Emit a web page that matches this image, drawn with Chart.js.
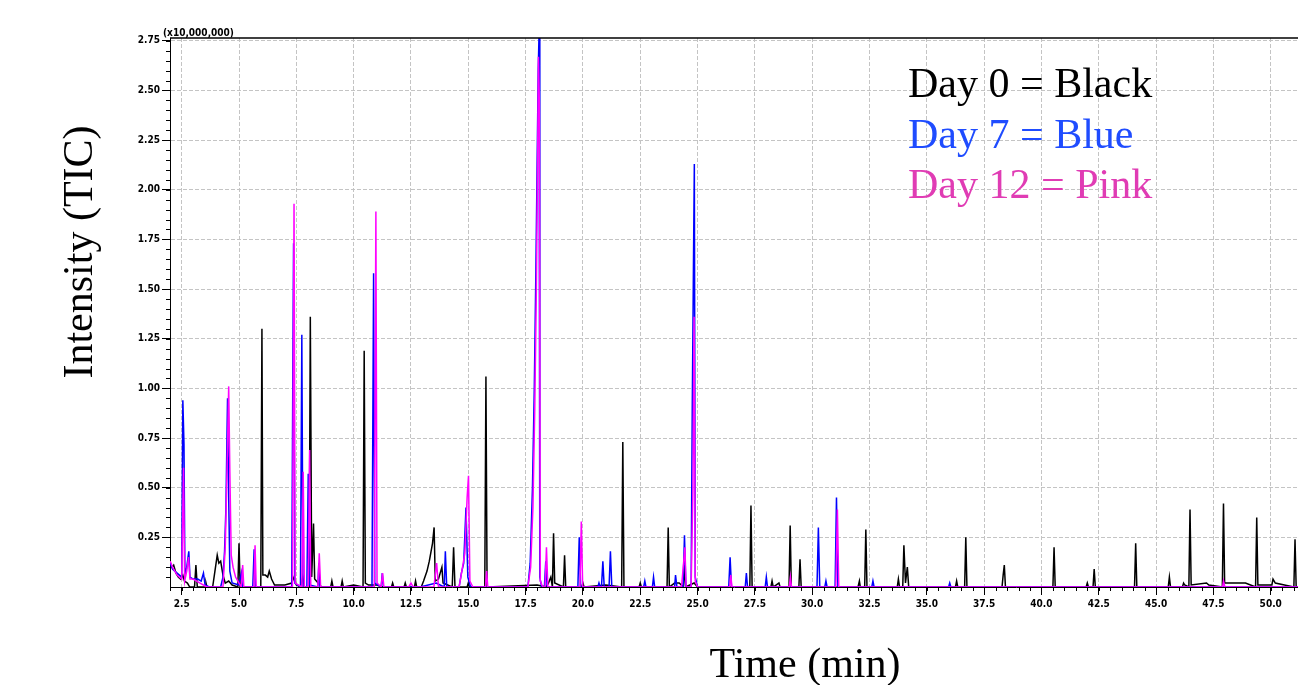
<!DOCTYPE html>
<html>
<head>
<meta charset="utf-8">
<title>TIC chromatogram</title>
<script src="https://cdn.jsdelivr.net/npm/chart.js@4.4.1/dist/chart.umd.min.js"></script>
<style>
  html, body { margin: 0; padding: 0; background: #fff; }
  #chart { display: block; }
</style>
</head>
<body>
<canvas id="chart" width="1298" height="685"></canvas>
<script>
// [retention time (min), intensity (x10,000,000)]
const day0 = [
  [2.0,0.12],[2.08,0.10],[2.15,0.11],[2.25,0.07],[2.35,0.05],[2.45,0.04],[2.55,0.06],[2.62,0.03],[2.75,0.02],[2.85,0],
  [3.06,0],[3.12,0.11],[3.18,0],[3.52,0],[3.56,0.02],[3.6,0],[3.85,0],[3.95,0.08],[4.05,0.16],[4.12,0.12],[4.2,0.13],
  [4.3,0.06],[4.4,0.02],[4.55,0.03],[4.7,0.01],[4.95,0],[5.0,0.22],[5.05,0],[5.95,0],[6.0,1.30],[6.04,0.06],[6.15,0.06],
  [6.25,0.05],[6.32,0.08],[6.42,0.04],[6.55,0.01],[7.0,0.01],[7.3,0.02],[7.4,0.05],[7.5,0.01],[7.7,0],[7.78,0.05],[7.85,0],
  [8.06,0],[8.11,1.36],[8.17,0.05],[8.25,0.32],[8.3,0.04],[8.45,0.02],[8.6,0],[9.0,0],[9.05,0.03],[9.1,0],[9.45,0],
  [9.5,0.03],[9.55,0],[10.0,0.01],[10.41,0],[10.46,1.19],[10.51,0.02],[10.65,0.01],[11.0,0.01],[11.3,0],[11.65,0],
  [11.7,0.02],[11.75,0],[12.2,0],[12.25,0.02],[12.3,0],[12.65,0],[12.7,0.03],[12.75,0],[12.95,0],[13.05,0.03],[13.2,0.08],
  [13.3,0.13],[13.44,0.22],[13.51,0.30],[13.56,0.03],[13.7,0.04],[13.85,0.10],[13.9,0.02],[14.3,0],[14.36,0.20],[14.42,0],
  [14.95,0],[15.0,0.02],[15.05,0],[15.72,0],[15.77,1.06],[15.82,0],[18.0,0.01],[18.4,0],[18.5,0.02],[18.6,0.05],[18.67,0],
  [18.72,0.27],[18.77,0.02],[19.15,0],[19.2,0.16],[19.25,0],[19.95,0],[20.0,0.02],[20.05,0],[21.0,0.01],[21.69,0],
  [21.74,0.73],[21.79,0],[22.45,0],[22.5,0.02],[22.55,0],[23.67,0],[23.72,0.30],[23.77,0],[24.0,0.02],[24.2,0.02],
  [24.38,0],[24.43,0.11],[24.48,0],[24.85,0.02],[25.0,0],[27.28,0],[27.33,0.41],[27.38,0],[28.2,0],[28.25,0.03],[28.3,0],
  [28.55,0.02],[28.6,0],[28.99,0],[29.04,0.31],[29.09,0],[29.42,0],[29.47,0.14],[29.52,0],[32.0,0],[32.06,0.03],[32.1,0],
  [32.29,0],[32.34,0.29],[32.39,0],[33.71,0],[33.76,0.04],[33.81,0],[33.95,0],[34.0,0.21],[34.07,0.02],[34.15,0.10],
  [34.21,0],[36.25,0],[36.3,0.03],[36.35,0],[36.65,0],[36.7,0.25],[36.75,0],[38.28,0],[38.33,0.06],[38.38,0.11],[38.43,0],
  [40.5,0],[40.55,0.20],[40.6,0],[41.95,0],[42.0,0.02],[42.05,0],[42.25,0],[42.3,0.09],[42.35,0],[44.06,0],[44.11,0.22],
  [44.16,0],[45.53,0],[45.58,0.05],[45.63,0],[46.15,0],[46.2,0.02],[46.25,0.01],[46.43,0],[46.48,0.39],[46.53,0.01],
  [47.2,0.02],[47.3,0.01],[47.89,0],[47.94,0.42],[47.99,0.02],[48.4,0.02],[48.6,0.02],[48.9,0.02],[49.34,0],[49.39,0.35],
  [49.44,0.01],[50.05,0.01],[50.1,0.04],[50.2,0.02],[50.6,0.01],[51.01,0],[51.06,0.24],[51.11,0],[51.2,0]
];

const day7 = [
  [2.0,0.12],[2.1,0.09],[2.2,0.08],[2.3,0.07],[2.4,0.06],[2.5,0.05],[2.55,0.94],[2.6,0.72],[2.64,0.06],[2.72,0.10],
  [2.81,0.18],[2.86,0.05],[3.0,0.04],[3.2,0.04],[3.35,0.03],[3.45,0.07],[3.52,0.01],[3.7,0],[4.2,0],[4.3,0.05],[4.37,0.18],
  [4.43,0.40],[4.5,0.95],[4.55,0.45],[4.6,0.08],[4.7,0.02],[5.0,0.01],[5.1,0.07],[5.15,0],[5.6,0],[5.66,0.19],[5.71,0],
  [7.3,0],[7.35,1.13],[7.38,1.73],[7.43,0.02],[7.68,0],[7.74,1.27],[7.79,0],[7.96,0],[8.02,0.57],[8.07,0.01],[8.44,0],
  [8.48,0.12],[8.53,0],[10.8,0],[10.87,1.58],[10.92,0.02],[11.2,0],[11.25,0.07],[11.3,0],[12.9,0],[13.6,0.02],[13.95,0],
  [14.0,0.18],[14.06,0],[14.6,0],[14.7,0.07],[14.8,0.12],[14.9,0.40],[14.98,0.05],[15.1,0],[17.6,0],[17.7,0.12],[17.8,0.50],
  [17.88,1.00],[17.95,1.60],[18.0,2.10],[18.05,2.60],[18.09,2.80],[18.12,0.05],[18.2,0],[18.32,0],[18.38,0.13],[18.44,0],
  [19.78,0],[19.84,0.25],[19.9,0],[20.65,0],[20.7,0.02],[20.75,0],[20.81,0],[20.87,0.13],[20.93,0],[21.14,0],[21.2,0.18],
  [21.26,0],[22.65,0],[22.7,0.03],[22.75,0],[23.03,0],[23.08,0.05],[23.13,0],[24.0,0],[24.04,0.06],[24.1,0],[24.37,0],
  [24.43,0.26],[24.49,0],[24.72,0],[24.77,0.90],[24.82,1.60],[24.86,2.13],[24.9,0.05],[25.0,0],[26.36,0],[26.42,0.15],
  [26.48,0],[27.08,0],[27.13,0.07],[27.18,0],[27.95,0],[28.0,0.05],[28.05,0],[30.21,0],[30.27,0.30],[30.33,0],[30.55,0],
  [30.6,0.03],[30.65,0],[31.0,0],[31.06,0.45],[31.12,0],[32.6,0],[32.65,0.03],[32.7,0],[35.95,0],[36.0,0.02],[36.05,0],
  [51.2,0]
];

const day12 = [
  [2.0,0.13],[2.1,0.10],[2.2,0.08],[2.3,0.06],[2.4,0.05],[2.5,0.04],[2.58,0.60],[2.63,0.03],[2.72,0.08],[2.8,0.15],
  [2.86,0.04],[3.0,0.04],[3.3,0.02],[3.6,0],[4.3,0],[4.4,0.20],[4.48,0.60],[4.55,1.01],[4.6,0.58],[4.66,0.16],[4.74,0.10],
  [4.85,0.05],[5.0,0.02],[5.1,0],[5.16,0.11],[5.21,0],[5.65,0],[5.7,0.21],[5.75,0],[7.33,0],[7.4,1.93],[7.45,0.02],
  [7.74,0],[7.8,0.58],[7.85,0],[8.02,0],[8.08,0.69],[8.13,0],[8.44,0],[8.5,0.17],[8.56,0],[10.9,0],[10.97,1.89],[11.02,0.02],
  [11.2,0],[11.26,0.07],[11.32,0],[12.4,0],[12.5,0.02],[12.6,0],[13.5,0],[13.62,0.12],[13.7,0],[14.6,0],[14.75,0.10],
  [14.85,0.17],[14.95,0.45],[15.01,0.56],[15.07,0.03],[15.2,0],[15.75,0],[15.8,0.08],[15.85,0],[17.6,0],[17.72,0.10],
  [17.82,0.40],[17.9,0.90],[17.97,1.50],[18.02,2.10],[18.06,2.67],[18.1,2.44],[18.14,0.03],[18.25,0],[18.35,0],[18.41,0.20],
  [18.47,0],[19.87,0],[19.93,0.33],[19.99,0],[24.3,0],[24.45,0.20],[24.5,0],[24.72,0],[24.8,0.50],[24.85,1.36],[24.9,0.03],
  [25.0,0],[26.4,0],[26.45,0.06],[26.5,0],[29.0,0],[29.05,0.05],[29.1,0],[31.03,0],[31.1,0.39],[31.16,0],[47.9,0],
  [47.94,0.03],[48.0,0],[51.2,0]
];

const xTickValues = [2.5, 5.0, 7.5, 10.0, 12.5, 15.0, 17.5, 20.0, 22.5, 25.0, 27.5, 30.0, 32.5, 35.0, 37.5, 40.0, 42.5, 45.0, 47.5, 50.0];
const yTickValues = [0.25, 0.5, 0.75, 1.0, 1.25, 1.5, 1.75, 2.0, 2.25, 2.5, 2.75];

const seriesNames = ["Day 0", "Day 7", "Day 12"];
const legendLines = ["Day 0 = Black", "Day 7 = Blue", "Day 12 = Pink"];
const legendColors = ["#000000", "#1f4cff", "#e03cb4"];
const xTitle = "Time (min)";
const yTitle = "Intensity (TIC)";
const yUnit = "(x10,000,000)";

const tickFont = { family: '"DejaVu Sans Condensed", "DejaVu Sans", sans-serif', size: 10, weight: 'bold' };
const serif = '"Liberation Serif", "Times New Roman", serif';

// minor ticks, top frame line and the free-placed texts
const frameExtras = {
  id: 'frameExtras',
  afterDraw(chart) {
    const { ctx, chartArea: a, scales: { x, y } } = chart;
    ctx.save();
    ctx.strokeStyle = '#000';
    ctx.lineWidth = 1;
    ctx.beginPath();
    for (let k = 4; k <= 102; k++) {
      const px = Math.round(x.getPixelForValue(k * 0.5)) + 0.5;
      if (px > a.right) break;
      ctx.moveTo(px, a.bottom);
      ctx.lineTo(px, a.bottom + 4);
    }
    for (let k = 1; k <= 55; k++) {
      const py = Math.round(y.getPixelForValue(k * 0.05)) + 0.5;
      ctx.moveTo(a.left - 4, py);
      ctx.lineTo(a.left, py);
    }
    ctx.stroke();

    ctx.lineWidth = 1.5;
    ctx.beginPath();
    ctx.moveTo(a.left, a.top);
    ctx.lineTo(a.right, a.top);
    ctx.stroke();

    ctx.fillStyle = '#000';
    ctx.font = 'bold 10px ' + tickFont.family;
    ctx.textAlign = 'left';
    ctx.textBaseline = 'alphabetic';
    ctx.fillText(yUnit, 163, 36);

    ctx.font = '42px ' + serif;
    legendLines.forEach((txt, i) => {
      ctx.fillStyle = legendColors[i];
      ctx.fillText(txt, 908, 97 + i * 50.5);
    });

    ctx.fillStyle = '#000';
    ctx.textAlign = 'center';
    ctx.fillText(xTitle, 805, 677);

    ctx.translate(92, 252);
    ctx.rotate(-Math.PI / 2);
    ctx.fillText(yTitle, 0, 0);
    ctx.restore();
  }
};

const toPoints = arr => arr.map(([t, v]) => ({ x: t, y: v }));

new Chart(document.getElementById('chart'), {
  type: 'line',
  data: {
    datasets: [
      { label: seriesNames[2], data: toPoints(day12), borderColor: '#ff00ff', order: 0 },
      { label: seriesNames[1], data: toPoints(day7), borderColor: '#0000ff', order: 1 },
      { label: seriesNames[0], data: toPoints(day0), borderColor: '#000000', order: 2 }
    ]
  },
  options: {
    responsive: false,
    animation: false,
    devicePixelRatio: 1,
    layout: { padding: { top: 38, left: 0, right: 0, bottom: 0 } },
    elements: {
      line: { borderWidth: 1.5, tension: 0 },
      point: { radius: 0, hoverRadius: 0 }
    },
    plugins: { legend: { display: false }, tooltip: { enabled: false } },
    scales: {
      x: {
        type: 'linear',
        min: 1.99,
        max: 51.19,
        afterBuildTicks: s => { s.ticks = xTickValues.map(v => ({ value: v })); },
        afterFit: s => { s.height = 98; },
        grid: { color: '#c4c4c4', tickColor: '#000', tickLength: 8, lineWidth: 1 },
        border: { display: true, color: '#000', width: 1, dash: [4, 2] },
        ticks: {
          autoSkip: false, maxRotation: 0, padding: 3, color: '#000', font: tickFont,
          callback: v => v.toFixed(1)
        }
      },
      y: {
        type: 'linear',
        min: 0,
        max: 2.764,
        afterBuildTicks: s => { s.ticks = yTickValues.map(v => ({ value: v })); },
        afterFit: s => { s.width = 170; },
        grid: { color: '#c4c4c4', tickColor: '#000', tickLength: 8, lineWidth: 1 },
        border: { display: true, color: '#000', width: 1, dash: [4, 2] },
        ticks: {
          autoSkip: false, padding: 2, color: '#000', font: tickFont,
          callback: v => v.toFixed(2)
        }
      }
    }
  },
  plugins: [frameExtras]
});
</script>
</body>
</html>
